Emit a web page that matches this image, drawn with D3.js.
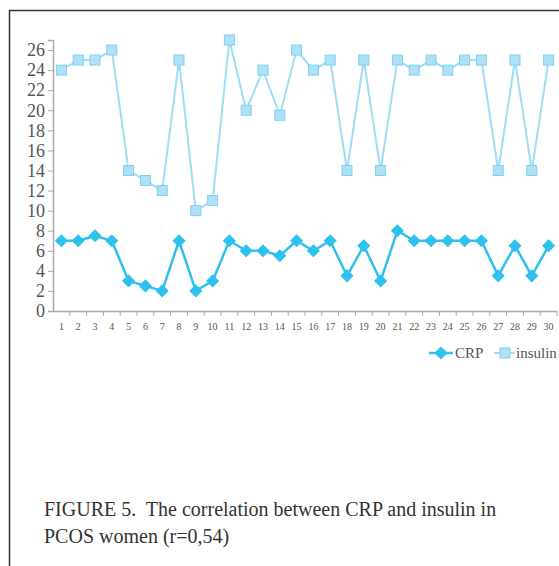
<!DOCTYPE html>
<html>
<head>
<meta charset="utf-8">
<script src="https://cdn.jsdelivr.net/npm/d3@7"></script>
<style>
    body { margin: 0; background: #fff; }
    svg { display: block; }
</style>
</head>
<body>
<script>
// Values
var patients = d3.range(1, 31);
var crp = [7, 7, 7.5, 7, 3, 2.5, 2, 7, 2, 3, 7, 6, 6, 5.5, 7, 6, 7, 3.5,
    6.5, 3, 8, 7, 7, 7, 7, 7, 3.5, 6.5, 3.5, 6.5];
var insulin = [24, 25, 25, 26, 14, 13, 12, 25, 10, 11, 27, 20, 24, 19.5, 26,
    24, 25, 14, 25, 14, 25, 24, 25, 24, 25, 25, 14, 25, 14, 25];
var yTicks = d3.range(0, 27, 2);
var captionLines = ["FIGURE 5.  The correlation between CRP and insulin in",
    "PCOS women (r=0,54)"];

var W = 559, H = 566;
var crpColor = "#2ec1ee", insLine = "#9fdcf5", insFill = "#aee0f6",
    insStroke = "#7fd0f1";
var serif = "'Liberation Serif', serif";

var svg = d3.select("body").append("svg")
    .attr("width", W)
    .attr("height", H)
    .style("font-family", serif);

// frame lines of the figure box
svg.append("path")
    .attr("d", "M9.5," + H + "V10.5H" + W)
    .attr("fill", "none")
    .attr("stroke", "#333")
    .attr("stroke-width", 1.5);

var x = d3.scaleBand().domain(patients).range([53, 557]);
var y = d3.scaleLinear().domain([0, 27]).range([311, 40]);

// y axis
var yAxis = svg.append("g")
    .attr("transform", "translate(53,0)")
    .call(d3.axisLeft(y).tickValues(yTicks).tickSize(5).tickPadding(3));
yAxis.select(".domain").attr("stroke", "#aaa").attr("stroke-width", 1.5);
yAxis.selectAll(".tick line").attr("stroke", "#aaa");
yAxis.selectAll("text")
    .attr("fill", "#555")
    .style("font-size", "18px")
    .style("font-family", serif);

// x axis, ticks at band boundaries
var xAxis = svg.append("g")
    .attr("transform", "translate(0,311)")
    .call(d3.axisBottom(x).tickSize(0).tickPadding(12));
xAxis.select(".domain").attr("stroke", "#aaa").attr("stroke-width", 1.5);
xAxis.selectAll("text")
    .attr("fill", "#555")
    .style("font-size", "10px")
    .style("font-family", serif);
xAxis.selectAll(".bound")
    .data(patients)
    .enter().append("line")
    .attr("x1", function(d) { return x(d) + x.bandwidth(); })
    .attr("x2", function(d) { return x(d) + x.bandwidth(); })
    .attr("y1", 0)
    .attr("y2", 5)
    .attr("stroke", "#aaa");

var cx = function(d, i) { return x(patients[i]) + x.bandwidth() / 2; };
var line = d3.line()
    .x(function(d, i) { return cx(d, i); })
    .y(function(d) { return y(d); });

// insulin series
svg.append("path")
    .datum(insulin)
    .attr("d", line)
    .attr("fill", "none")
    .attr("stroke", insLine)
    .attr("stroke-width", 2);
svg.selectAll(".ins")
    .data(insulin)
    .enter().append("rect")
    .attr("x", function(d, i) { return cx(d, i) - 5; })
    .attr("y", function(d) { return y(d) - 5; })
    .attr("width", 10)
    .attr("height", 10)
    .attr("fill", insFill)
    .attr("stroke", insStroke);

// CRP series
svg.append("path")
    .datum(crp)
    .attr("d", line)
    .attr("fill", "none")
    .attr("stroke", crpColor)
    .attr("stroke-width", 2.5);
var diamond = d3.symbol().type(d3.symbolDiamond2).size(110);
svg.selectAll(".crp")
    .data(crp)
    .enter().append("path")
    .attr("transform", function(d, i) {
        return "translate(" + cx(d, i) + "," + y(d) + ")";
    })
    .attr("d", diamond)
    .attr("fill", crpColor);

// legend
var leg = svg.append("g").attr("transform", "translate(0,353)");
leg.append("line").attr("x1", 429).attr("x2", 453)
    .attr("stroke", crpColor).attr("stroke-width", 2.5);
leg.append("path").attr("transform", "translate(441,0)")
    .attr("d", diamond).attr("fill", crpColor);
leg.append("text").attr("x", 455).attr("y", 5)
    .attr("fill", "#555").style("font-size", "15px").text("CRP");
leg.append("line").attr("x1", 494).attr("x2", 515)
    .attr("stroke", insLine).attr("stroke-width", 2);
leg.append("rect").attr("x", 500).attr("y", -5)
    .attr("width", 10).attr("height", 10)
    .attr("fill", insFill).attr("stroke", insStroke);
leg.append("text").attr("x", 516).attr("y", 5)
    .attr("fill", "#555").style("font-size", "15px").text("insulin");

// caption
svg.selectAll(".cap")
    .data(captionLines)
    .enter().append("text")
    .attr("x", 44)
    .attr("y", function(d, i) { return 516 + i * 27; })
    .attr("fill", "#333")
    .style("font-size", "20px")
    .style("white-space", "pre")
    .text(function(d) { return d; });
</script>
</body>
</html>
